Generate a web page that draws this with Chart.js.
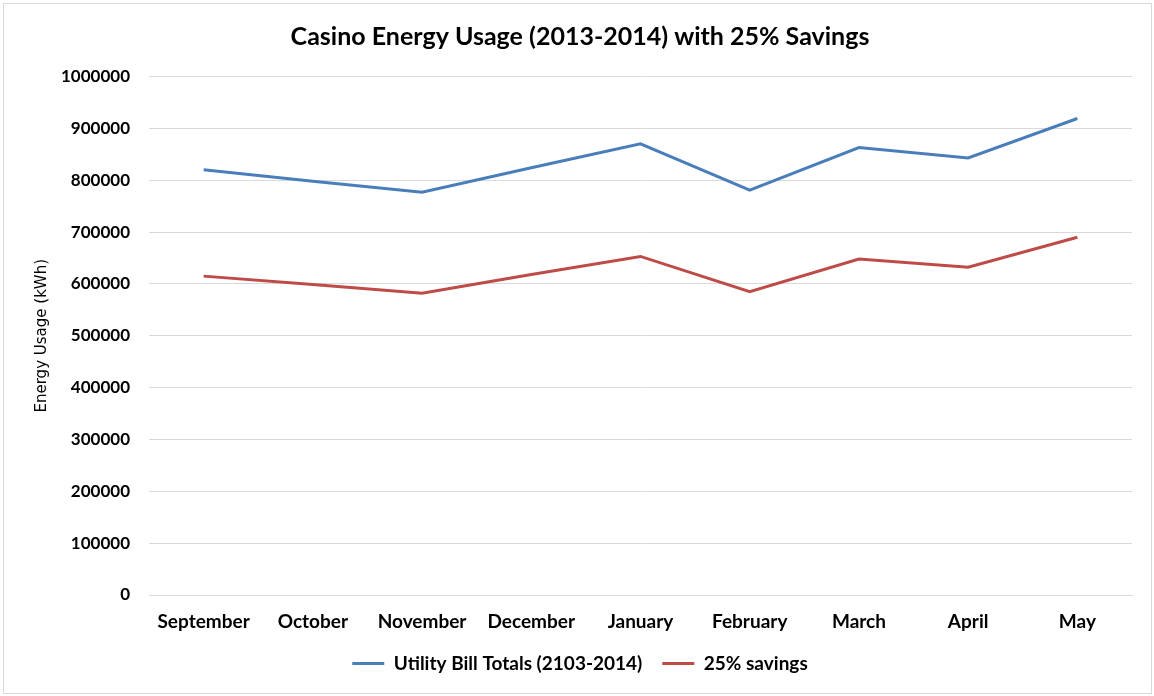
<!DOCTYPE html>
<html>
<head>
<meta charset="utf-8">
<title>Casino Energy Usage</title>
<script src="https://cdn.jsdelivr.net/npm/chart.js@4/dist/chart.umd.min.js"></script>
<style>
  html, body { margin: 0; padding: 0; background: #fff; }
  #wrap { width: 1154px; height: 696px; }
</style>
</head>
<body>
<div id="wrap"><canvas id="usageLine" width="1154" height="696"></canvas></div>
<script>
const months = ["September", "October", "November", "December", "January", "February", "March", "April", "May"];
const utilityTotals = [820000, 798000, 777000, 824000, 870000, 781000, 863000, 843000, 919000];
const withSavings = [615000, 599000, 582000, 618000, 653000, 585000, 648000, 632000, 690000];
const yTicks = { min: 0, max: 1000000, step: 100000 };

const FONT = "Lato, 'Open Sans', sans-serif";
const GRID = "#d9d9d9";

// white page plus the thin frame round the whole chart
const frame = {
  id: "frame",
  beforeDraw(chart){
    const c = chart.ctx;
    c.save();
    c.fillStyle = "#fff";
    c.fillRect(0, 0, chart.width, chart.height);
    c.strokeStyle = GRID;
    c.lineWidth = 1;
    c.strokeRect(3.5, 3.5, chart.width - 6, chart.height - 6);
    c.restore();
  }
};

new Chart(document.getElementById("usageLine"), {
  type: "line",
  data: {
    labels: months,
    datasets: [
      { label: "Utility Bill Totals (2103-2014)", data: utilityTotals,
        borderColor: "#4a7ebb", backgroundColor: "#4a7ebb", borderWidth: 3,
        pointRadius: 0, tension: 0 },
      { label: "25% savings", data: withSavings,
        borderColor: "#be4b48", backgroundColor: "#be4b48", borderWidth: 3,
        pointRadius: 0, tension: 0 }
    ]
  },
  options: {
    responsive: false,
    animation: false,
    layout: { padding: { left: 28, right: 22, top: 0, bottom: 13 } },
    plugins: {
      title: {
        display: true,
        text: "Casino Energy Usage (2013-2014) with 25% Savings",
        color: "#000",
        font: { family: FONT, size: 25, weight: "bold" },
        padding: { top: 22, bottom: 24.5 }
      },
      legend: {
        position: "bottom",
        labels: {
          color: "#000",
          font: { family: FONT, size: 19, weight: "bold" },
          // zero-height box: only the 3px border shows, like a line swatch
          boxWidth: 32, boxHeight: 0, padding: 20
        }
      },
      tooltip: { enabled: false }
    },
    scales: {
      x: {
        offset: true,
        grid: { display: false, drawTicks: false },
        border: { display: true, color: GRID, width: 1 },
        ticks: { color: "#000", padding: 15, maxRotation: 0,
                 font: { family: FONT, size: 19, weight: "bold" } },
        afterFit(scale){ scale.height = 39; }
      },
      y: {
        min: yTicks.min, max: yTicks.max,
        grid: { color: GRID, drawTicks: false },
        border: { display: false },
        ticks: { stepSize: yTicks.step, color: "#000", padding: 19,
                 font: { family: FONT, size: 17, weight: "bold" },
                 callback: v => String(v) },
        title: { display: true, text: "Energy Usage (kWh)", color: "#000",
                 font: { family: "'DejaVu Sans', sans-serif", size: 15 },
                 padding: { top: 5, bottom: 0 } },
        afterFit(scale){ scale.width = 121; }
      }
    }
  },
  plugins: [frame]
});
</script>
</body>
</html>
